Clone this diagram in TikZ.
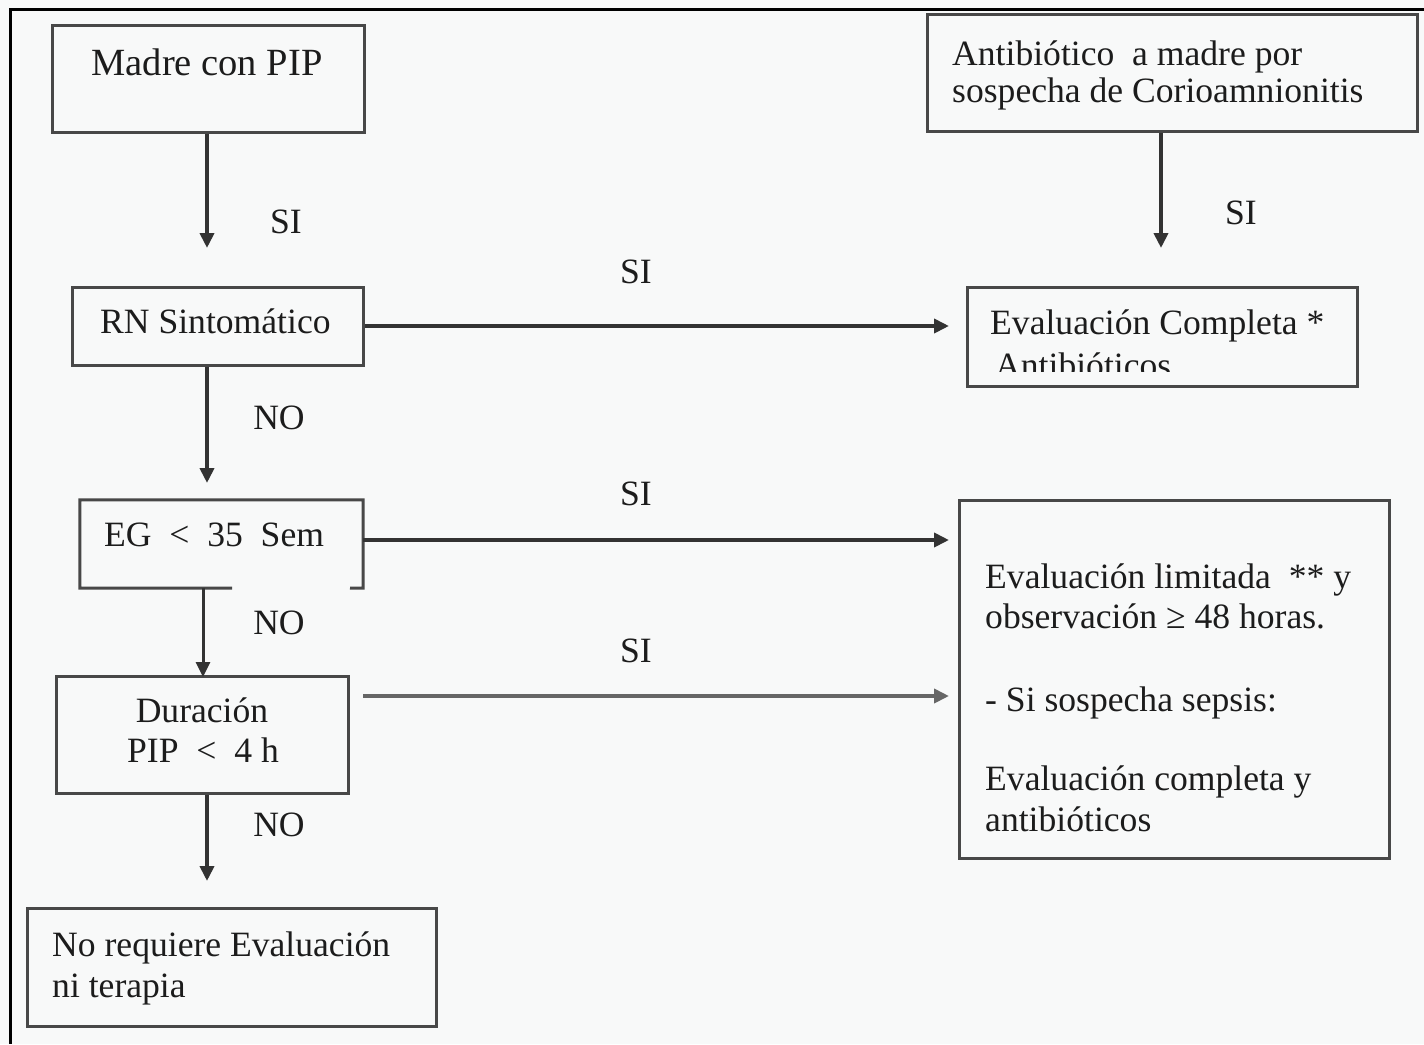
\documentclass[tikz,border=0pt]{standalone}
\usepackage{fontspec}
\setmainfont{Liberation Serif}
\usetikzlibrary{arrows.meta}
\definecolor{bg}{RGB}{248,249,249}
\definecolor{boxc}{RGB}{72,72,72}
\definecolor{txtc}{RGB}{28,28,28}
\begin{document}
\begin{tikzpicture}[x=1pt,y=-1pt,
  box/.style={draw=boxc,line width=3pt,inner sep=0pt},
  txt/.style={font=\fontsize{35.6}{40}\selectfont,text=txtc,inner sep=0pt},
  arr/.style={draw=black!80,line width=4pt,-{Triangle[length=15pt,width=14pt]}}]
\fill[bg] (0,0) rectangle (1424,1044);
\useasboundingbox (0,0) rectangle (1424,1044);
% outer frame (top and left)
\draw[black,line width=3pt] (1424,9) -- (10,9) -- (10,1044);

% boxes
\node[box,minimum width=312pt,minimum height=107pt] (madre) at (208,78.5) {};
\node[box,minimum width=490pt,minimum height=117pt] (anti) at (1172,72.5) {};
\node[box,minimum width=291pt,minimum height=78pt] (rn) at (217.5,326) {};
\node[box,minimum width=390pt,minimum height=99pt] (evc) at (1162,336.5) {};
\node[inner sep=0pt,minimum width=283pt,minimum height=88pt] (eg) at (221.5,544) {};
\draw[draw=boxc,line width=3pt] (232,588) -- (eg.south west) -- (eg.north west) -- (eg.north east) -- (eg.south east) -- (350,588);
\node[box,minimum width=292pt,minimum height=117pt] (dur) at (202,734.5) {};
\node[box,minimum width=430pt,minimum height=358pt] (evl) at (1174,679) {};
\node[box,minimum width=409pt,minimum height=118pt] (noreq) at (231.5,967) {};

% texts
\node[txt,font=\fontsize{38.5}{42}\selectfont,anchor=base] (madreT) at (207,75) {Madre con PIP};
\node[txt,anchor=base west] (antiT1) at (952,65) {Antibiótico\ \ a madre por};
\node[txt,anchor=base west] (antiT2) at (952,102) {sospecha de Corioamnionitis};
\node[txt,anchor=base west] (rnT) at (100,333) {RN Sintomático};
\node[txt,anchor=base west] (evcT1) at (990,334) {Evaluación Completa *};
\begin{scope}
  \clip (975,340) rectangle (1350,371);
  \node[txt,anchor=base west] (evcT2) at (995,377) {Antibióticos};
\end{scope}
\node[txt,anchor=base west] (egT) at (104,546) {EG\ \ <\ \ 35\ \ Sem};
\node[txt,anchor=base] (durT1) at (202,722) {Duración};
\node[txt,anchor=base] (durT2) at (203,762) {PIP\ \ <\ \ 4 h};
\node[txt,anchor=base west] (evlT1) at (985,588) {Evaluación limitada\ \ ** y};
\node[txt,anchor=base west] (evlT2) at (985,628) {observación ≥ 48 horas.};
\node[txt,anchor=base west] (evlT3) at (985,711) {- Si sospecha sepsis:};
\node[txt,anchor=base west] (evlT4) at (985,790) {Evaluación completa y};
\node[txt,anchor=base west] (evlT5) at (985,831) {antibióticos};
\node[txt,anchor=base west] (noT1) at (52,956) {No requiere Evaluación};
\node[txt,anchor=base west] (noT2) at (52,997) {ni terapia};

% connector end points
\coordinate (e1) at (207,248);
\coordinate (e2) at (1161,248);
\coordinate (e3) at (949,326);
\coordinate (e4) at (207,483);
\coordinate (s5) at (363,540);
\coordinate (e5) at (949,540);
\coordinate (e6) at (203,677);
\coordinate (s7) at (363,696);
\coordinate (e7) at (949,696);
\coordinate (e8) at (207,881);

% connectors
\draw[arr] (madre.south -| e1) -- (e1);
\draw[arr] (anti.south -| e2) -- (e2);
\draw[arr] (rn.east) -- (e3);
\draw[arr] (rn.south -| e4) -- (e4);
\draw[arr] (s5) -- (e5);
\draw[arr,line width=3pt] (eg.south -| e6) -- (e6);
\draw[arr,draw=black!60] (s7) -- (e7);
\draw[arr] (dur.south -| e8) -- (e8);

% labels
\node[txt] (l1) at (286,222) {SI};
\node[txt] (l2) at (1241,213) {SI};
\node[txt] (l3) at (636,272) {SI};
\node[txt] (l4) at (279,418) {NO};
\node[txt] (l5) at (636,494) {SI};
\node[txt] (l6) at (279,623) {NO};
\node[txt] (l7) at (636,651) {SI};
\node[txt] (l8) at (279,825) {NO};
\end{tikzpicture}
\end{document}
